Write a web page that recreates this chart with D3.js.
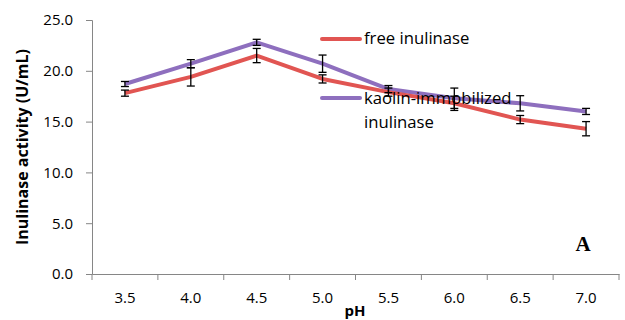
<!DOCTYPE html>
<html><head><meta charset="utf-8">
<script src="https://cdn.jsdelivr.net/npm/d3@7"></script>
<style>body{margin:0;background:#fff}svg{display:block}</style>
</head><body>
<svg id="c" width="625" height="320"></svg>
<script>
const categories = ["3.5","4.0","4.5","5.0","5.5","6.0","6.5","7.0"];
const freeVals = [17.8, 19.4, 21.5, 19.2, 17.9, 16.8, 15.2, 14.3];
const freeErr  = [0.3, 0.9, 0.7, 0.4, 0.4, 0.7, 0.4, 0.7];
const kaolinVals = [18.7, 20.7, 22.8, 20.7, 18.2, 17.3, 16.8, 16.0];
const kaolinErr  = [0.25, 0.4, 0.3, 0.85, 0.35, 1.0, 0.75, 0.3];
const yTicks = [0, 5, 10, 15, 20, 25];

(function(){
const svg = d3.select("#c");
const font = "'Open Sans', sans-serif";
const mLeft = 92, mRight = 619, mTop = 20, mBottom = 274;
const x = d3.scaleBand().domain(categories).range([mLeft, mRight]);
const y = d3.scaleLinear().domain([0, 25]).range([mBottom, mTop]);
const axisColor = "#868686";

const ya = svg.append("g").attr("transform", `translate(${mLeft},0)`)
  .call(d3.axisLeft(y).tickValues(yTicks).tickFormat(d3.format(".1f")).tickSizeOuter(0).tickSize(6).tickPadding(13));
const xa = svg.append("g").attr("transform", `translate(0,${mBottom})`)
  .call(d3.axisBottom(x).tickSize(0).tickPadding(18));
[ya, xa].forEach(g => {
  g.selectAll("path,line").attr("stroke", axisColor);
  g.selectAll("text").attr("font-family", font).attr("font-size", 15).attr("fill", "#000");
});
const bounds = categories.map(c => x(c)).concat([mRight]);
svg.append("g").selectAll("line").data(bounds).join("line")
  .attr("x1", d => d).attr("x2", d => d).attr("y1", mBottom).attr("y2", mBottom + 6)
  .attr("stroke", axisColor);

const series = [
  {vals: kaolinVals, err: kaolinErr, color: "#8E6FBE"},
  {vals: freeVals, err: freeErr, color: "#E15552"}
];
const cx = c => x(c) + x.bandwidth() / 2;
const line = d3.line().x((d, i) => cx(categories[i])).y(d => y(d));
series.forEach(s => {
  svg.append("path").datum(s.vals).attr("d", line).attr("fill", "none")
    .attr("stroke", s.color).attr("stroke-width", 4).attr("stroke-linejoin", "round");
});
series.forEach(s => {
  const g = svg.append("g").attr("stroke", "#000").attr("stroke-width", 1.3);
  s.vals.forEach((v, i) => {
    const px = cx(categories[i]);
    const y1 = y(v + s.err[i]), y2 = y(v - s.err[i]);
    g.append("line").attr("x1", px).attr("x2", px).attr("y1", y1).attr("y2", y2);
    g.append("line").attr("x1", px - 4).attr("x2", px + 4).attr("y1", y1).attr("y2", y1);
    g.append("line").attr("x1", px - 4).attr("x2", px + 4).attr("y1", y2).attr("y2", y2);
  });
});

const leg = svg.append("g").attr("font-family", font).attr("font-size", 16.7);
leg.append("line").attr("x1", 322).attr("x2", 360).attr("y1", 39).attr("y2", 39)
  .attr("stroke", "#E15552").attr("stroke-width", 4).attr("stroke-linecap", "round");
leg.append("text").attr("x", 364).attr("y", 44).text("free inulinase");
leg.append("line").attr("x1", 322).attr("x2", 360).attr("y1", 98).attr("y2", 98)
  .attr("stroke", "#8E6FBE").attr("stroke-width", 4).attr("stroke-linecap", "round");
leg.append("text").attr("x", 364).attr("y", 104).text("kaolin-immobilized");
leg.append("text").attr("x", 364).attr("y", 128).text("inulinase");

svg.append("text").attr("transform", "translate(28,147) rotate(-90)").attr("text-anchor", "middle")
  .attr("font-family", font).attr("font-weight", "bold").attr("font-size", 16).text("Inulinase activity (U/mL)");
svg.append("text").attr("x", 355).attr("y", 316).attr("text-anchor", "middle")
  .attr("font-family", font).attr("font-weight", "bold").attr("font-size", 15).text("pH");
svg.append("text").attr("x", 583).attr("y", 251).attr("text-anchor", "middle")
  .attr("font-family", "'Liberation Serif', serif").attr("font-weight", "bold").attr("font-size", 21).text("A");
})();
</script>
</body></html>
